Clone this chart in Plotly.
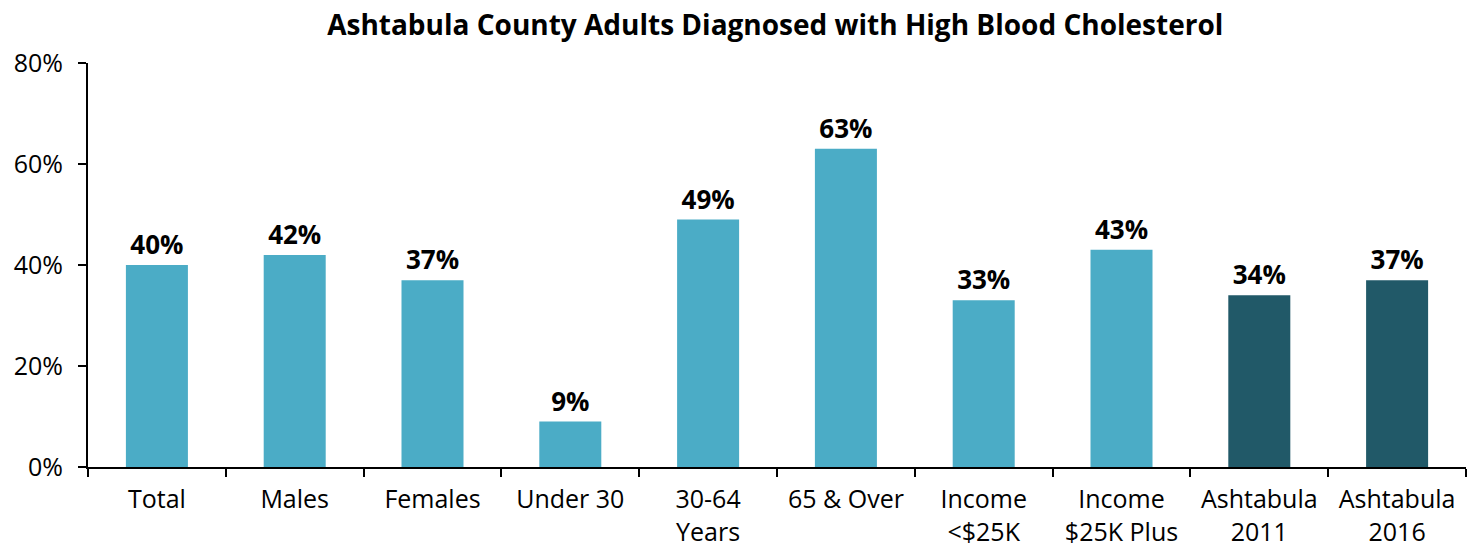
import plotly.graph_objects as go

categories = ["Total", "Males", "Females", "Under 30", "30-64<br>Years", "65 & Over",
              "Income<br>&lt;$25K", "Income<br>$25K Plus", "Ashtabula<br>2011", "Ashtabula<br>2016"]
values = [40, 42, 37, 9, 49, 63, 33, 43, 34, 37]
labels = [f"{v}%" for v in values]
colors = ["#4BACC6"] * 8 + ["#215968"] * 2

fig = go.Figure(go.Bar(
    x=categories, y=values, marker=dict(color=colors, line=dict(width=0)),
    text=labels, textposition="outside", cliponaxis=False,
    textfont=dict(family="Open Sans", size=26, color="black", weight="bold"),
))
fig.update_layout(
    width=1471, height=546,
    margin=dict(l=88, r=5, t=63, b=79),
    plot_bgcolor="white", paper_bgcolor="white",
    bargap=0.55,
    showlegend=False,
    title=dict(text="<b>Ashtabula County Adults Diagnosed with High Blood Cholesterol</b>",
               x=0.527, xanchor="center", y=0.953, yanchor="middle",
               font=dict(family="Open Sans", size=28, color="black")),
    font=dict(family="Open Sans", size=25, color="black"),
)
fig.update_yaxes(range=[0, 80], tickvals=[0, 20, 40, 60, 80], ticktext=["0%", "20%", "40%", "60%", "80%"],
                 showgrid=False, showline=True, linecolor="black", linewidth=2,
                 ticks="outside", ticklen=8, tickwidth=2, tickcolor="black", zeroline=False,
                 ticklabelstandoff=10, tickfont=dict(size=25), automargin=False)
fig.update_xaxes(showline=True, linecolor="black", linewidth=2, ticks="outside", ticklen=8,
                 tickwidth=2, tickcolor="black", tickson="boundaries", showgrid=False,
                 ticklabelstandoff=9, tickfont=dict(size=25), automargin=False)
fig.write_html("out.html", config={"displayModeBar": False},
               post_script="document.body.style.margin='0';")
